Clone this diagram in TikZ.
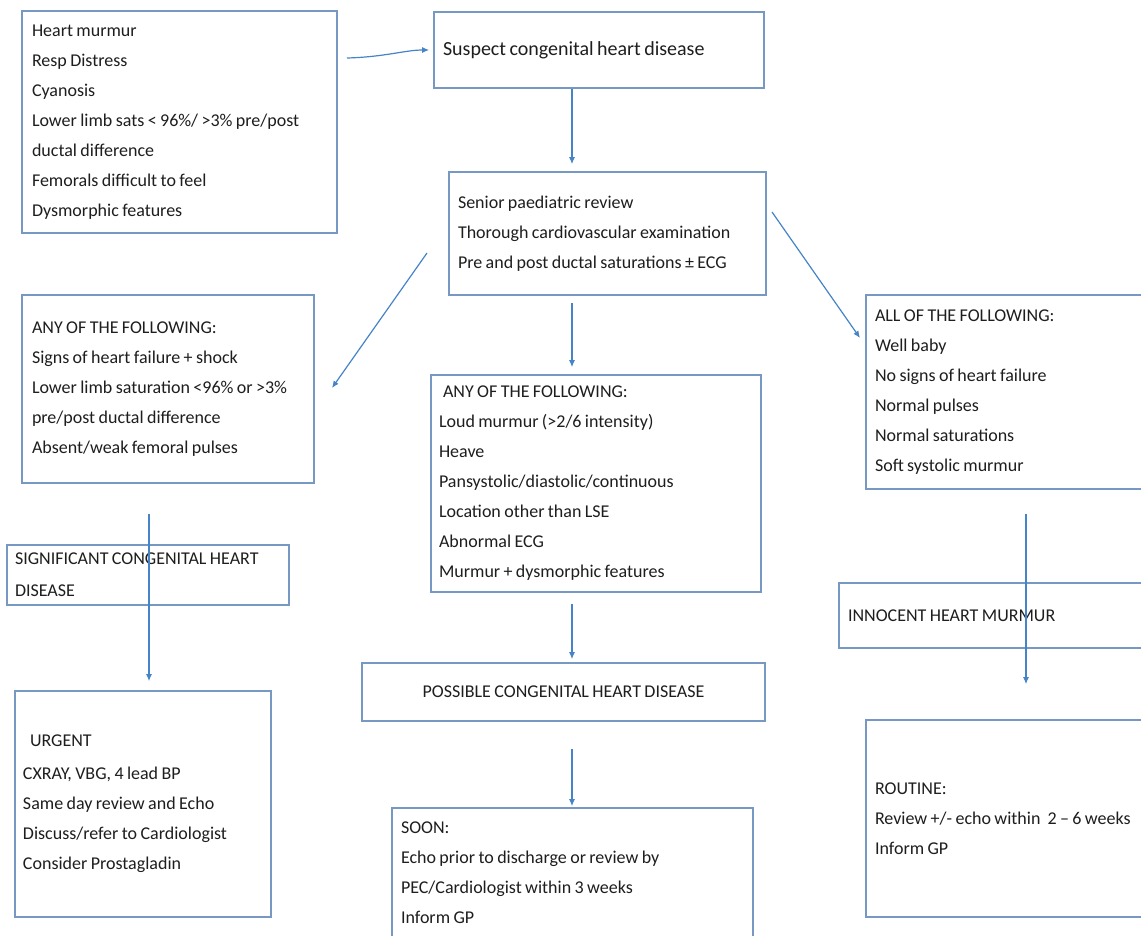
\documentclass[tikz,border=0pt]{standalone}
\usepackage{fontspec}
\setmainfont{Carlito}
\usetikzlibrary{arrows.meta,calc}
\definecolor{boxc}{RGB}{120,152,196}
\definecolor{arrc}{RGB}{70,132,200}
\definecolor{txtc}{RGB}{30,30,30}
\newcommand{\bodyfnt}[1]{\fontsize{18}{#1}\selectfont}
\newcommand{\titlefnt}{\fontsize{20}{30}\selectfont}
\begin{document}
\begin{tikzpicture}[x=1pt,y=-1pt,
  box/.style={draw=boxc, line width=1.6pt, rectangle, text=txtc, align=left,
    font=\bodyfnt{30}, inner ysep=0pt, execute at begin node={\spaceskip=3.4pt\relax}},
  arr/.style={draw=arrc, line width=1.2pt, -{Latex[length=7pt,width=6pt]}},
]
\useasboundingbox (0,0) rectangle (1141,936);
\clip (0,0) rectangle (1141,936);
\fill[white] (0,0) rectangle (1141,936);

% boxes
\node[box, minimum width=315, minimum height=222, inner xsep=10pt, text width=295pt] (A) at (179.5,122)
 {Heart murmur\\Resp Distress\\Cyanosis\\Lower limb sats < 96\%/ >3\% pre/post\\ductal difference\\Femorals difficult to feel\\Dysmorphic features};
\node[box, minimum width=330, minimum height=76, inner xsep=9pt, text width=312pt, font=\titlefnt] (B) at (599,50)
 {Suspect congenital heart disease};
\node[box, minimum width=317, minimum height=123, inner xsep=9pt, text width=299pt] (C) at (607.5,233.5)
 {Senior paediatric review\\Thorough cardiovascular examination\\Pre and post ductal saturations ± ECG};
\node[box, minimum width=330, minimum height=217, inner xsep=8pt, text width=314pt] (D) at (596,483.5)
 {\hspace*{4pt}ANY OF THE FOLLOWING:\\Loud murmur (>2/6 intensity)\\Heave\\Pansystolic/diastolic/continuous\\Location other than LSE\\Abnormal ECG\\Murmur + dysmorphic features};
\node[box, minimum width=403, minimum height=58, inner xsep=8pt, text width=387pt, align=center] (E) at (563.5,692)
 {POSSIBLE CONGENITAL HEART DISEASE};
\node[box, minimum width=361, minimum height=130, inner xsep=9pt, text width=343pt] (F) at (572.5,873)
 {SOON:\\Echo prior to discharge or review by\\PEC/Cardiologist within 3 weeks\\Inform GP};
\node[box, minimum width=292, minimum height=188, inner xsep=10pt, text width=272pt] (G) at (168,389)
 {ANY OF THE FOLLOWING:\\Signs of heart failure + shock\\Lower limb saturation <96\% or >3\%\\pre/post ductal difference\\Absent/weak femoral pulses};
\node[box, minimum width=282, minimum height=60, inner xsep=8pt, text width=266pt, font=\bodyfnt{32}] (H) at (148,575)
 {SIGNIFICANT CONGENITAL HEART\\DISEASE};
\node[box, minimum width=256, minimum height=226, inner xsep=8pt, text width=240pt] (I) at (143,804)
 {\hspace*{7pt}URGENT\\[3pt]CXRAY, VBG, 4 lead BP\\Same day review and Echo\\Discuss/refer to Cardiologist\\Consider Prostagladin};
\node[box, minimum width=294, minimum height=194, inner xsep=9pt, text width=276pt] (J) at (1013,392)
 {ALL OF THE FOLLOWING:\\Well baby\\No signs of heart failure\\Normal pulses\\Normal saturations\\Soft systolic murmur};
\node[box, minimum width=321, minimum height=65, inner xsep=9pt, text width=303pt] (K) at (999.5,615.5)
 {INNOCENT HEART MURMUR};
\node[box, minimum width=294, minimum height=197, inner xsep=9pt, text width=276pt] (L) at (1013,818.5)
 {ROUTINE:\\\mbox{Review +/- echo within\hspace{7pt}2 – 6 weeks}\\Inform GP};

% helper coordinates
\coordinate (mx) at (572,0);
\coordinate (lx) at (149,0);
\coordinate (rx) at (1026,0);
\coordinate (ab1) at (347,58);
\coordinate (cg1) at (427,253);
\coordinate (cg2) at (332,388);
\coordinate (cj1) at (772,212);
\coordinate (cj2) at (860,338);

% connectors
\draw[arr, shorten >=4pt] (ab1) .. controls (385,57) and (405,50) .. (B.west);
\draw[arr, shorten >=7pt] (B.south -| mx) -- (C.north -| mx);
\draw[arr, shorten <=7pt, shorten >=7pt] (C.south -| mx) -- (D.north -| mx);
\draw[arr, shorten <=11pt, shorten >=3pt] (D.south -| mx) -- (E.north -| mx);
\draw[arr, shorten <=27pt, shorten >=1pt] (E.south -| mx) -- (F.north -| mx);
\draw[arr] (cg1) -- (cg2);
\draw[arr] (cj1) -- (cj2);
\draw[arr, shorten <=30pt, shorten >=9pt] (G.south -| lx) -- (I.north -| lx);
\draw[arr, shorten <=24pt, shorten >=35pt] (J.south -| rx) -- (L.north -| rx);
\end{tikzpicture}
\end{document}
